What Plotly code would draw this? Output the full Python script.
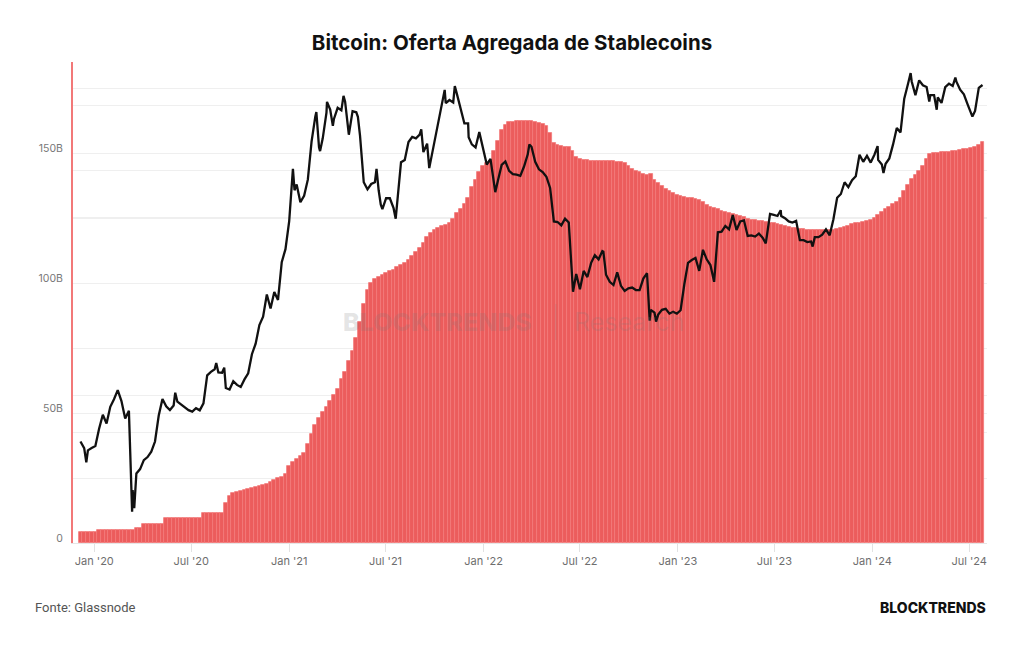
import pandas as pd
import plotly.graph_objects as go

# ---------------- data ----------------
week_start = "2019-12-06"
n_weeks = 243

# Aggregated stablecoin supply (billions USD), weekly
stable_supply_b = (
    [4.4] * 5 + [5.0] * 10 + [5.7] * 2 + [7.3] * 6 + [9.5] * 10 + [11.7] * 6 +
    [15.4, 18.0, 19.3,
     19.8, 20.2, 20.6, 20.9, 21.2, 21.5,
     21.8, 22.3, 22.9, 23.5, 24.2, 25.0,
     25.6, 26.5, 29.5, 31.3, 32.5, 33.5, 34.5,
     38, 42, 45.5, 48.2, 50.5, 52.5, 54.7, 57, 59.5, 63, 66, 70, 74, 79, 85, 92, 97.5,
     100.3, 101.8, 102.5, 103.3, 104, 104.7, 105.3, 106.2, 107, 107.8, 109, 110.5, 112,
     113.5, 115.5, 118, 119.5, 120.5, 121.5, 122, 122.5, 123.2,
     125, 127, 128.5, 130.5, 133, 137, 140, 143, 145.3, 146.3, 147, 151, 155, 159,
     161.2, 162, 162.3, 162.5, 162.7, 162.7, 162.7,
     162.5, 162.3, 161.8, 161.3, 160.5, 158, 154, 153.2, 153, 152.6, 152.4, 151, 148.8,
     148, 147.5, 147.5,
     147.3, 147.2, 147.2, 147.1, 147.1, 147, 147, 146.9, 146.9,
     146.5, 145.3, 144.2, 143.4, 142.8, 142.2, 141.8, 142.3, 140, 138.5, 137.5, 136.5,
     135.5, 134.7, 134, 133.5, 133.2, 133, 132.8, 132.6,
     132, 131.2, 130.3, 129.5, 128.9, 128.5, 128, 127.6, 127.2, 126.8, 126.4, 126,
     125.6, 125, 124.6, 124.4, 124.2, 124, 123.7, 123.4,
     123.1, 122.8, 122.5, 122.1, 121.7, 121.4, 121.2, 121, 120.8, 120.7, 120.6, 120.6,
     120.5, 120.5, 120.5, 120.5, 120.6, 120.8, 121.3, 121.8,
     122.3, 122.8, 123.1, 123.4, 123.7, 124.1, 124.5, 125.3, 126.3, 127.6, 128.5, 129.5,
     130.5, 131.3, 133, 135.5, 137.9, 140.2, 141.8, 143.5,
     145.3, 148, 149.7, 150.2, 150.4, 150.5, 150.6, 150.7, 150.9, 151.1, 151.3, 151.6,
     151.9, 152.3, 152.7, 153.4, 154.6]
)

# Bitcoin price (USD), weekly, same dates
btc_2019 = [7550, 7250, 7150, 7250]
btc_2020 = [7340, 8170, 8900, 8440, 9350, 9800, 10360, 9690, 8700, 9120, 5600, 6200,
            6370, 6730, 6860, 7090, 7550, 8860, 9810, 9380, 9170, 9430, 9650, 9470,
            9300, 9160, 9080, 9270, 9150, 9550, 11350, 11600, 11780, 11560, 11530,
            10500, 10400, 10950, 10700, 10570, 11070, 11500, 12930, 13800, 15480,
            16300, 18680, 17140, 18980, 18060, 22800, 24700]
btc_2021 = [29370, 40500, 36800, 33000, 34300, 37900, 47900, 55900, 46300, 48900,
            57300, 58400, 55100, 59000, 58100, 61300, 50000, 57800, 57400, 49700,
            37300, 35700, 36900, 37300, 35500, 31600, 33800, 33800, 31800, 33600,
            42200, 42800, 47800, 49300, 48900, 50000, 44900, 47300, 42800, 48200,
            53900, 61500, 60700, 61900, 61000, 64200, 58100, 53600, 53600, 47100,
            46200, 50800, 46300]
btc_2022 = [41600, 43100, 36300, 37700, 41500, 42400, 40000, 39200, 39100, 38800,
            41100, 44300, 46400, 42300, 40400, 39700, 38600, 36000, 29300, 29200,
            28600, 29800, 29100, 20400, 21200, 19300, 21600, 20800, 22700, 23800,
            23200, 24400, 21100, 20200, 19800, 21400, 19700, 19100, 19400, 19500,
            19200, 19200, 20600, 21300, 17000, 16700, 16500, 17000, 17100, 16600,
            16800, 16600]
btc_2023 = [16950, 19900, 22700, 23100, 23400, 21600, 24600, 23200, 22400, 20200,
            27400, 27500, 28500, 27900, 30500, 27800, 29300, 29500, 26800, 26900,
            26700, 27200, 26500, 26300, 30700, 30500, 30300, 30300, 29900, 29300,
            29100, 29400, 26100, 26100, 25800, 25900, 26600, 26600, 27000, 27900,
            26900, 29700, 33900, 34700, 37300, 36200, 37800, 38700, 44200, 42300,
            43900, 42100]
btc_2024 = [44200, 42800, 41600, 41800, 43200, 47100, 52100, 50700, 62400, 68300,
            69400, 63800, 69900, 67800, 67100, 63800, 63800, 62900, 60800, 67000,
            68500, 67500, 69300, 66000, 64100, 60300, 56600, 57900, 66700, 67900]

# extra daily highs / lows
btc_extra_dates = ["2019-12-17", "2020-03-12", "2020-03-16", "2020-06-01", "2020-08-17",
                   "2020-09-01", "2021-01-11", "2021-02-21", "2021-02-28", "2021-03-13",
                   "2021-03-24", "2021-04-13", "2021-05-10", "2021-06-14", "2021-06-22",
                   "2021-07-20", "2021-09-06", "2021-09-21", "2021-10-20", "2021-11-08",
                   "2021-12-04", "2022-01-23", "2022-03-28", "2022-06-18", "2022-08-14",
                   "2022-11-09", "2022-11-21", "2023-04-13", "2023-06-15", "2023-07-13",
                   "2023-09-11", "2024-01-11", "2024-01-22", "2024-03-13", "2024-04-17",
                   "2024-05-01", "2024-06-05", "2024-07-07"]
btc_extra_vals = [6640, 4900, 5010, 10200, 12250,
                  11900, 35500, 57500, 45200, 61200,
                  52800, 63500, 55800, 40500, 32500,
                  29800, 51700, 40700, 65900, 67500,
                  49200, 35100, 47100, 19000, 24300,
                  15900, 15800, 30400, 25600, 31400,
                  25100, 46600, 39500, 73100, 61300,
                  58300, 71100, 55900]

x_tick_vals = ["2020-01-01", "2020-07-01", "2021-01-01", "2021-07-01", "2022-01-01",
               "2022-07-01", "2023-01-01", "2023-07-01", "2024-01-01", "2024-07-01"]
x_tick_text = ["Jan '20", "Jul '20", "Jan '21", "Jul '21", "Jan '22",
               "Jul '22", "Jan '23", "Jul '23", "Jan '24", "Jul '24"]
y_tick_vals = [0, 25, 50, 75, 100, 125, 150, 175]
y_tick_text = ["0", "", "50B", "", "100B", "", "150B", ""]
btc_grid_vals = [6000, 8000, 10000, 20000, 30000, 40000, 60000]

# ---------------- build ----------------
weeks = pd.date_range(week_start, periods=n_weeks, freq="7D")
n = min(len(weeks), len(stable_supply_b))

btc_weekly = btc_2019 + btc_2020 + btc_2021 + btc_2022 + btc_2023 + btc_2024
m = min(len(weeks), len(btc_weekly))
btc = pd.concat([
    pd.Series(btc_weekly[:m], index=weeks[:m]),
    pd.Series(btc_extra_vals, index=pd.to_datetime(btc_extra_dates)),
]).sort_index()

fig = go.Figure()
fig.add_trace(go.Bar(
    x=weeks[:n], y=stable_supply_b[:n],
    marker=dict(color="#EC5C5C", line=dict(width=0.8, color="#F27979")),
    name="Stablecoins", yaxis="y",
))
fig.add_trace(go.Scatter(
    x=btc.index, y=btc.values, mode="lines",
    line=dict(color="#111111", width=2.3),
    name="BTC", yaxis="y2",
))

grid_col = "#EFEFEF"
tick_font = dict(family="Inter", size=10.5, color="#777777")

fig.update_layout(
    width=1024, height=645,
    margin=dict(l=73, r=37, t=62, b=102),
    paper_bgcolor="white", plot_bgcolor="white",
    showlegend=False,
    bargap=0,
    title=dict(text="Bitcoin: Oferta Agregada de Stablecoins",
               x=0.5, xref="container", xanchor="center",
               y=1 - 43 / 645, yref="container", yanchor="middle",
               font=dict(family="Inter", size=20.5, color="#111111", weight=700)),
    xaxis=dict(type="date", range=["2019-11-22", "2024-08-03 10:00"],
               tickvals=x_tick_vals, ticktext=x_tick_text,
               ticks="outside", ticklen=8, tickcolor="#E2E2E2", tickwidth=1,
               showgrid=False, zeroline=False,
               showline=True, linecolor="#E6E6E6", linewidth=1,
               tickfont=dict(family="Inter", size=11, color="#6E6E6E")),
    yaxis=dict(range=[0, 185.3], tickvals=y_tick_vals, ticktext=y_tick_text,
               showgrid=True, gridcolor=grid_col, gridwidth=1, zeroline=False,
               showline=True, linecolor="#F27878", linewidth=2,
               ticks="", ticklabelstandoff=6, ticklabelshift=-5,
               tickfont=tick_font),
    yaxis2=dict(type="log", overlaying="y", side="right",
                range=[3.6064, 4.8935], tickvals=btc_grid_vals,
                showticklabels=False, showgrid=True, gridcolor=grid_col,
                zeroline=False, showline=False, ticks=""),
)

def px_x(X):
    return (X - 73) / 914

def px_y(Y):
    return (543 - Y) / 481

wm = "rgba(120,120,120,0.2)"
fig.add_annotation(text="BLOCKTRENDS", x=px_x(437.5), y=px_y(322), xref="paper", yref="paper",
                   showarrow=False, xanchor="center", yanchor="middle",
                   font=dict(family="Inter", size=25, color=wm, weight=800))
fig.add_annotation(text="|", x=px_x(555), y=px_y(322), xref="paper", yref="paper",
                   showarrow=False, xanchor="center", yanchor="middle",
                   font=dict(family="Inter", size=30, color=wm, weight=200))
fig.add_annotation(text="Research", x=px_x(628.5), y=px_y(322), xref="paper", yref="paper",
                   showarrow=False, xanchor="center", yanchor="middle",
                   font=dict(family="Inter", size=25, color=wm, weight=400))

fig.add_annotation(text="Fonte: Glassnode", x=px_x(33), y=px_y(607), xref="paper", yref="paper",
                   showarrow=False, xanchor="left", yanchor="middle",
                   font=dict(family="Roboto", size=13, color="#555555"))
fig.add_annotation(text="BLOCKTRENDS", x=px_x(988), y=px_y(607), xref="paper", yref="paper",
                   showarrow=False, xanchor="right", yanchor="middle",
                   font=dict(family="Inter", size=14, color="#111111", weight=800))

fig.write_html("out.html")
